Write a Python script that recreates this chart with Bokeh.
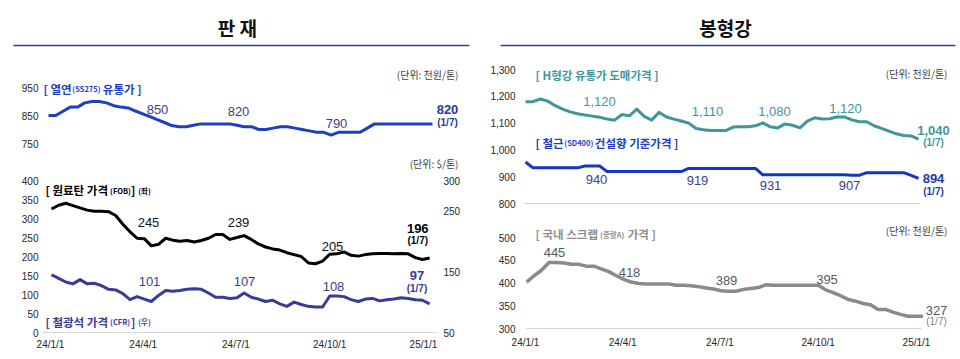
import pandas as pd
from bokeh.plotting import figure
from bokeh.layouts import column, row
from bokeh.models import Range1d, LinearAxis, FixedTicker, Label, NumeralTickFormatter, GridBox
from bokeh.core.properties import value
from bokeh.embed import file_html
from bokeh.resources import INLINE

# ---------------------------------------------------------------- data
base_date = pd.Timestamp("2024-01-01")
dates = pd.date_range("2024-01-02", "2025-01-07", freq="7D")      # weekly observations
x_tick_dates = ["2024-01-01", "2024-04-01", "2024-07-01", "2024-10-01", "2025-01-01"]
x_tick_labels = ["24/1/1", "24/4/1", "24/7/1", "24/10/1", "25/1/1"]
last_date_label = "(1/7)"

panel_titles = ["판  재", "봉형강"]

# 열연(SS275) 유통가, 천원/톤
hot_rolled = [850, 850, 865, 880, 880, 895, 900, 900, 895, 885,
              880, 877, 866, 856, 846, 835, 825, 814, 810, 810,
              815, 820, 820, 820, 820, 820, 815, 810, 810, 800,
              800, 805, 810, 810, 805, 800, 795, 790, 790, 780,
              790, 790, 790, 790, 805, 820, 820, 820, 820, 820,
              820, 820, 820, 820]
hot_rolled_marks = ["850", "820", "790"]
hot_rolled_last = "820"
hot_rolled_ticks = [750, 850, 950]

# 원료탄 가격(FOB), $/톤 (left axis)
coking_coal = [325, 335, 340, 334, 328, 322, 319, 319, 318, 308,
               285, 265, 248, 247, 228, 232, 248, 243, 240, 242,
               238, 242, 248, 258, 258, 245, 250, 255, 245, 233,
               225, 220, 217, 210, 205, 200, 183, 181, 188, 206,
               207, 212, 203, 201, 205, 207, 208, 208, 207, 208,
               207, 197, 192, 196]
coal_marks = ["245", "239", "205"]
coal_last = "196"
coal_ticks = [0, 50, 100, 150, 200, 250, 300, 350, 400]

# 철광석 가격(CFR), $/톤 (right axis)
iron_ore = [145, 139, 133, 130, 137, 130, 131, 127, 121, 120,
            114, 104, 109, 105, 101, 111, 119, 118, 119, 121,
            122, 121, 115, 108, 108, 106, 107, 115, 108, 105,
            101, 103, 97, 93, 100, 96, 93, 92, 92, 110,
            110, 109, 104, 101, 105, 106, 102, 104, 105, 107,
            106, 104, 103, 97]
ore_marks = ["101", "107", "108"]
ore_last = "97"
ore_ticks = [50, 150, 250, 300]

# H형강 유통가 도매가격, 천원/톤
h_beam = [1180, 1180, 1190, 1182, 1165, 1152, 1142, 1135, 1130, 1126,
          1122, 1115, 1111, 1132, 1127, 1152, 1125, 1111, 1140, 1123,
          1115, 1108, 1100, 1080, 1075, 1072, 1072, 1072, 1085, 1086,
          1086, 1090, 1101, 1086, 1082, 1097, 1092, 1082, 1107, 1120,
          1115, 1116, 1123, 1123, 1112, 1105, 1105, 1090, 1080, 1070,
          1060, 1054, 1052, 1040]
h_beam_marks = ["1,120", "1,110", "1,080", "1,120"]
h_beam_last = "1,040"

# 철근(SD400) 건설향 기준가격, 천원/톤
rebar = [955, 933, 933, 933, 933, 933, 933, 933, 940, 940,
         940, 919, 919, 919, 919, 919, 919, 919, 919, 919,
         919, 919, 931, 931, 931, 931, 931, 931, 931, 931,
         931, 931, 907, 907, 907, 907, 907, 907, 907, 907,
         907, 907, 907, 907, 905, 905, 915, 915, 915, 915,
         915, 915, 905, 894]
rebar_marks = ["940", "919", "931", "907"]
rebar_last = "894"
long_ticks = [800, 900, 1000, 1100, 1200, 1300]

# 국내 스크랩(중량A) 가격, 천원/톤
scrap = [402, 416, 428, 445, 445, 444, 441, 441, 437, 437,
         431, 425, 416, 408, 402, 399, 398, 398, 398, 398,
         395, 395, 394, 392, 389, 387, 383, 382, 382, 386,
         388, 390, 396, 395, 395, 395, 395, 395, 395, 395,
         385, 379, 372, 364, 360, 355, 352, 342, 342, 336,
         331, 327, 327, 327]
scrap_marks = ["445", "418", "389", "395"]
scrap_last = "327"
scrap_ticks = [300, 350, 400, 450, 500]

days = [(d - base_date).days for d in dates]
tick_days = [(pd.Timestamp(d) - base_date).days for d in x_tick_dates]

# ---------------------------------------------------------------- styling helpers
NUM = "Liberation Sans"
KR = "Noto Sans CJK KR"
AXIS_TEXT = "#262626"
NAVY_TXT = "#3d3d8f"
BASE_GREY = "#d9d9d9"
KR_SIZE = 11.5
SMALL_SIZE = 7.5


def est_width(text, size):
    """Rough advance width of a string as rendered (bold CJK sans)."""
    w = 0.0
    for ch in text:
        if "\uac00" <= ch <= "\ud7a3":
            w += 0.97
        elif ch == " ":
            w += 0.2
        elif ch in "[]":
            w += 0.28
        elif ch in "()":
            w += 0.3
        elif ch.isdigit():
            w += 0.52
        elif ch.isupper():
            w += 0.62
        else:
            w += 0.28
    return w * size


class Panel:
    """Maps reference-page pixels to data units for one chart."""

    def __init__(self, fig_box, frame_box, x_map, y_map):
        self.fig_box = fig_box
        self.frame_box = frame_box
        self.ax, self.bx = x_map
        self.y_map = y_map

    def day(self, px):
        return (px - self.ax) / self.bx

    def val(self, py, y_map=None):
        v0, py0, by = y_map or self.y_map
        return v0 + (py0 - py) / by

    def make(self, x_axis, y_axis=True, transparent=False):
        fx0, fy0, fx1, fy1 = self.fig_box
        L, T, R, B = self.frame_box
        fill = None if transparent else "white"
        p = figure(width=fx1 - fx0, height=fy1 - fy0,
                   x_range=Range1d(self.day(L), self.day(R)),
                   y_range=Range1d(self.val(B), self.val(T)),
                   min_border_left=L - fx0, min_border_right=fx1 - R,
                   min_border_top=T - fy0, min_border_bottom=fy1 - B,
                   x_axis_location="below" if x_axis else None,
                   y_axis_location="left" if y_axis else None,
                   toolbar_location=None, output_backend="svg",
                   outline_line_color=None,
                   background_fill_color=fill, border_fill_color=fill)
        p.grid.visible = False
        self.p = p
        return p

    def label(self, text, px, py, size="13px", color="#333333", bold=False,
              align="center", baseline="middle", font=NUM):
        self.p.add_layout(Label(x=self.day(px), y=self.val(py), text=text,
                                text_font=font, text_font_size=size,
                                text_color=color,
                                text_font_style="bold" if bold else "normal",
                                text_align=align, text_baseline=baseline))

    def series_label(self, parts, left, base, color):
        """parts: list of (text, small?, gap_before_px)"""
        x = left
        for text, small, gap in parts:
            size = SMALL_SIZE if small else KR_SIZE
            x += gap
            self.label(text, x, base, f"{size}px", color, True, "left", "alphabetic", KR)
            x += est_width(text, size)

    def baseline(self, level, px0, px1):
        self.p.segment(x0=[self.day(px0)], y0=[level], x1=[self.day(px1)], y1=[level],
                       line_color=BASE_GREY, line_width=1)


def style_axis(axis, ticks, standoff, line_color=None, fmt=None, overrides=None):
    axis.ticker = FixedTicker(ticks=ticks)
    axis.axis_line_color = line_color
    axis.axis_line_width = 1
    axis.major_tick_line_color = None
    axis.minor_tick_line_color = None
    axis.major_tick_out = 0
    axis.major_tick_in = 0
    axis.minor_tick_out = 0
    axis.minor_tick_in = 0
    axis.major_label_standoff = standoff
    axis.major_label_text_font = NUM
    axis.major_label_text_font_size = "10px"
    axis.major_label_text_color = AXIS_TEXT
    if fmt is not None:
        axis.formatter = fmt
    if overrides is not None:
        axis.major_label_overrides = overrides


x_overrides = {d: t for d, t in zip(tick_days, x_tick_labels)}

# ---------------------------------------------------------------- titles
tp = figure(width=960, height=52, x_range=Range1d(0, 960), y_range=Range1d(52, 0),
            min_border=0, x_axis_location=None, y_axis_location=None,
            toolbar_location=None, output_backend="svg", outline_line_color=None)
tp.grid.visible = False
tp.text(x=[239, 725], y=[27, 27], text=panel_titles, text_font=value(KR),
        text_font_style="bold", text_font_size="19px", text_align="center",
        text_baseline="middle", text_color="#111111")
tp.segment(x0=[13, 500], y0=[45, 45], x1=[469, 955], y1=[45, 45],
           line_color="#3b3f8f", line_width=1.5)

# ---------------------------------------------------------------- L1: 열연
L1 = Panel((0, 52, 480, 171), (42, 52, 480, 171), (47, 1.035), (850, 115, 0.28))
p1 = L1.make(False)
style_axis(p1.yaxis[0], hot_rolled_ticks, 4)
p1.line(days, hot_rolled, line_color="#1c3fc4", line_width=3, line_join="round")
L1.series_label([("[ 열연", False, 0), ("(SS275)", True, 1), ("유통가 ]", False, 5)],
                43, 88, "#1c3fc4")
L1.label("(단위: 천원/톤)", 458, 74, "10px", "#404040", False, "right", "middle", KR)
L1.label("(단위: $/톤)", 458, 162.5, "10px", "#404040", False, "right", "middle", KR)
for t, (px, py) in zip(hot_rolled_marks, [(157, 109), (238, 111), (336, 122.5)]):
    L1.label(t, px, py, "13px", NAVY_TXT)
L1.label(hot_rolled_last, 447, 109, "13px", "#27389e", True)
L1.label(last_date_label, 447, 122, "10px", "#27389e", True)

# ---------------------------------------------------------------- L2: 원료탄 / 철광석
ore_map = (50, 332, 0.608)
L2 = Panel((0, 171, 480, 359), (42, 171, 437, 332), (50, 1.0191), (0, 332, 0.38))
p2 = L2.make(True)
p2.extra_y_ranges = {"ore": Range1d(L2.val(332, ore_map), L2.val(171, ore_map))}
style_axis(p2.yaxis[0], coal_ticks, 4)
style_axis(p2.xaxis[0], tick_days, 6, line_color=BASE_GREY, overrides=x_overrides)
rax = LinearAxis(y_range_name="ore")
style_axis(rax, ore_ticks, 6)
p2.add_layout(rax, "right")
p2.line(days, iron_ore, y_range_name="ore", line_color="#3a3a98", line_width=3,
        line_join="round")
p2.line(days, coking_coal, line_color="#000000", line_width=3, line_join="round")
L2.series_label([("[ 원료탄 가격", False, 0), ("(FOB)", True, 1), ("]", False, 2.5),
                 ("(좌)", True, 4)], 45, 189.5, "#000000")
L2.series_label([("[ 철광석 가격", False, 0), ("(CFR)", True, 1), ("]", False, 2.5),
                 ("(우)", True, 4)], 45, 321, "#3a3a98")
for t, (px, py) in zip(coal_marks, [(148, 222), (238, 222), (332, 245.5)]):
    L2.label(t, px, py, "13px", "#111111")
for t, (px, py) in zip(ore_marks, [(149, 280.5), (244, 280.5), (333, 286)]):
    L2.label(t, px, py, "13px", NAVY_TXT)

# transparent overlay carrying the latest-value notes beside the right axis
L2o = Panel((0, 171, 480, 359), (0, 171, 480, 359), (50, 1.0191), (0, 332, 0.38))
p2o = L2o.make(False, y_axis=False, transparent=True)
L2o.label(coal_last, 456, 237.5, "13px", "#000000", True)
L2o.label(last_date_label, 456, 251.5, "10px", "#000000", True)
L2o.label(ore_last, 455, 293, "13px", "#3a3a98", True)
L2o.label(last_date_label, 455, 307.5, "10px", "#3a3a98", True)
left_bottom = GridBox(children=[(p2, 0, 0), (p2o, 0, 0)], spacing=0)

# ---------------------------------------------------------------- R1: H형강 / 철근
R1 = Panel((480, 52, 960, 212), (524, 52, 960, 204), (524, 1.0593), (800, 203, 0.268))
p3 = R1.make(False)
style_axis(p3.yaxis[0], long_ticks, 9, fmt=NumeralTickFormatter(format="0,0"))
R1.baseline(800, 523, 920)
p3.line(days, h_beam, line_color="#3f979c", line_width=3, line_join="round")
p3.line(days, rebar, line_color="#1436c8", line_width=3, line_join="round")
R1.series_label([("[ H형강 유통가 도매가격 ]", False, 0)], 535, 74.5, "#3f979c")
R1.label("(단위: 천원/톤)", 947, 72.5, "10px", "#404040", False, "right", "middle", KR)
R1.series_label([("[ 철근", False, 0), ("(SD400)", True, 1), ("건설향 기준가격 ]", False, 5)],
                535, 142, "#1c3fc4")
for t, (px, py) in zip(h_beam_marks, [(599, 101), (707, 110.5), (774, 110.5), (845, 107.5)]):
    R1.label(t, px, py, "13px", "#3f979c")
for t, (px, py) in zip(rebar_marks, [(596, 179), (697, 180), (770, 185), (849, 185)]):
    R1.label(t, px, py, "13px", NAVY_TXT)
R1.label(h_beam_last, 933, 130, "13px", "#3f979c", True)
R1.label(last_date_label, 933, 141.5, "10px", "#3f979c", True)
R1.label(rebar_last, 933, 178, "13px", "#1f37b0", True)
R1.label(last_date_label, 933, 191, "10px", "#1f37b0", True)

# ---------------------------------------------------------------- R2: 스크랩
R2 = Panel((480, 212, 960, 359), (524, 212, 960, 329), (525, 1.0683), (300, 328, 0.455))
p4 = R2.make(True)
style_axis(p4.yaxis[0], scrap_ticks, 9)
style_axis(p4.xaxis[0], tick_days, 7, line_color=None, overrides=x_overrides)
R2.baseline(300, 525, 921)
p4.line(days, scrap, line_color="#8a8a8a", line_width=3.5, line_join="round")
R2.series_label([("[ 국내 스크랩", False, 0), ("(중량A)", True, 1), ("가격 ]", False, 4)],
                535, 233.5, "#909090")
R2.label("(단위: 천원/톤)", 947, 230, "10px", "#404040", False, "right", "middle", KR)
for t, (px, py) in zip(scrap_marks, [(554, 251.5), (629, 272), (726, 279.5), (826.5, 278.5)]):
    R2.label(t, px, py, "13px", "#595959")
R2.label(scrap_last, 936, 310, "13px", "#595959")
R2.label(last_date_label, 936, 321, "10px", "#7f7f7f")

# ---------------------------------------------------------------- layout
layout = column(tp, row(column(p1, left_bottom, spacing=0), column(p3, p4, spacing=0), spacing=0),
                spacing=0)

with open("out.html", "w") as f:
    f.write(file_html(layout, INLINE))
